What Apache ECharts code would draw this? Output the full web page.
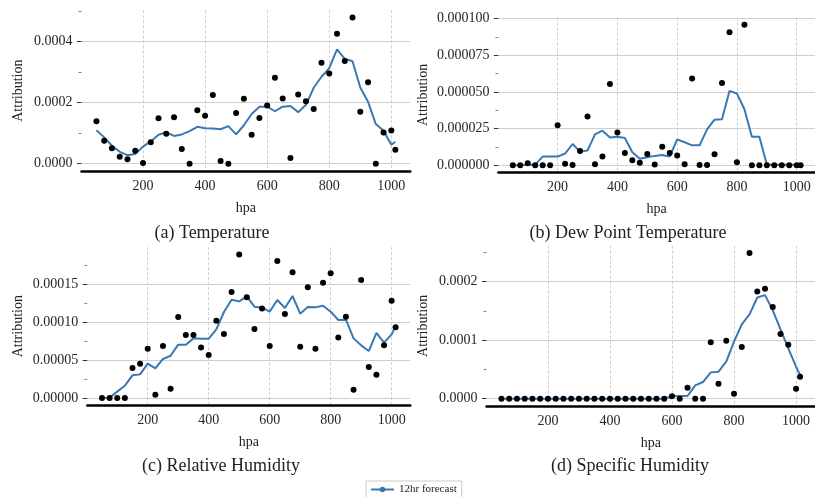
<!DOCTYPE html>
<html>
<head>
<meta charset="utf-8">
<script src="https://cdn.jsdelivr.net/npm/echarts@6/dist/echarts.min.js"></script>
<style>
    html, body { margin: 0; padding: 0; background: #fff; }
    #chart { width: 815px; height: 497px; }
</style>
</head>
<body>
<div id="chart"></div>
<script>
// pressure levels (hPa)
const levels = [50, 75, 100, 125, 150, 175, 200, 225, 250, 275, 300, 325, 350, 375, 400, 425, 450, 475, 500, 525,
    550, 575, 600, 625, 650, 675, 700, 725, 750, 775, 800, 825, 850, 875, 900, 925, 950, 975, 1000, 1013];

// (a) temperature
const tempPts = [0.000139, 0.0000754, 0.0000503, 0.000023, 0.0000142, 0.0000426, 0.000002, 0.00007, 0.000149, 0.0000984,
    0.000152, 0.000048, 0, 0.000175, 0.000157, 0.000225, 0.0000087, 0, 0.000166, 0.000213,
    0.000095, 0.00015, 0.000191, 0.000282, 0.000214, 0.0000186, 0.000227, 0.000205, 0.000179, 0.000331,
    0.000296, 0.000426, 0.000337, 0.000479, 0.00017, 0.000267, 0, 0.000102, 0.000109, 0.000046];
const tempLine = [0.00011, 0.0000863, 0.000059, 0.000039, 0.000028, 0.000032, 0.000056, 0.000073, 0.000095, 0.000103,
    0.000091, 0.000096, 0.000107, 0.000121, 0.000116, 0.000115, 0.000113, 0.000123, 0.000096, 0.000126,
    0.000163, 0.000187, 0.000187, 0.000172, 0.000187, 0.000189, 0.000169, 0.000193, 0.000249, 0.000285,
    0.000313, 0.000375, 0.000344, 0.000336, 0.00025, 0.000203, 0.00013, 0.000108, 0.000062, 0.000072];

// (b) dew point temperature
const dewPts = [0, 0, 0.0000014, 0, 0, 0, 0.0000273, 0.000001, 0.0000002, 0.0000098,
    0.0000332, 0.0000007, 0.0000059, 0.0000555, 0.0000223, 0.0000084, 0.0000034, 0.0000018, 0.0000077, 0.0000005,
    0.0000127, 0.0000084, 0.0000066, 0.0000007, 0.0000591, 0.0000002, 0.0000002, 0.0000075, 0.0000561, 0.0000907,
    0.000002, 0.0000959, 0, 0, 0, 0, 0, 0, 0, 0];
const dewLine = [0, 0, 0.0000003, 0.0000004, 0.0000059, 0.0000059, 0.0000059, 0.000008, 0.0000145, 0.0000093,
    0.00001, 0.0000211, 0.0000236, 0.0000189, 0.0000195, 0.0000186, 0.0000089, 0.0000045, 0.0000055, 0.0000064,
    0.000007, 0.0000059, 0.0000177, 0.0000157, 0.0000136, 0.0000136, 0.0000245, 0.0000311, 0.0000314, 0.0000507,
    0.0000489, 0.0000382, 0.0000195, 0.0000195, 0.0000005, 0.0000003, 0.0000003, 0.0000003, 0.0000003, 0.0000003];

// (c) relative humidity
const rhPts = [0, 0, 0, 0, 0.0000396, 0.0000453, 0.0000651, 0.0000044, 0.0000686, 0.0000123,
    0.0001069, 0.0000831, 0.0000831, 0.0000668, 0.0000567, 0.000102, 0.0000844, 0.00014, 0.0001895, 0.0001328,
    0.000091, 0.000118, 0.0000686, 0.0001807, 0.0001108, 0.0001658, 0.0000677, 0.000146, 0.0000651, 0.0001522,
    0.0001645, 0.00008, 0.0001073, 0.000011, 0.0001557, 0.0000409, 0.0000308, 0.0000695, 0.0001284, 0.0000932];
const rhLine = [0, 0.0000005, 0.0000084, 0.0000163, 0.0000299, 0.0000312, 0.0000453, 0.0000391, 0.0000515, 0.0000558,
    0.0000704, 0.0000704, 0.0000787, 0.0000783, 0.0000783, 0.0000906, 0.0001135, 0.0001297, 0.0001275, 0.0001341,
    0.0001205, 0.0001192, 0.0001139, 0.0001293, 0.0001187, 0.0001346, 0.0001113, 0.00012, 0.0001196, 0.0001218,
    0.0001139, 0.0001029, 0.0001033, 0.0000787, 0.0000695, 0.000062, 0.0000858, 0.000073, 0.000084, 0.0000954];

// (d) specific humidity
const qPts = [0, 0, 0, 0, 0, 0, 0, 0, 0, 0,
    0, 0, 0, 0, 0, 0, 0, 0, 0, 0,
    0, 0, 0.000004, 0, 0.0000188, 0, 0, 0.0000963, 0.0000256, 0.0000991,
    0.0000085, 0.0000883, 0.000249, 0.000183, 0.000188, 0.0001567, 0.0001105, 0.0000923, 0.0000171, 0.0000376];
const qLine = [0, 0, 0, 0, 0, 0, 0, 0, 0, 0,
    0, 0, 0, 0, 0, 0, 0, 0, 0, 0,
    0, 0, 0.000004, 0.0000046, 0.0000046, 0.0000228, 0.0000285, 0.000045, 0.0000462, 0.0000632,
    0.0000974, 0.000127, 0.000144, 0.000173, 0.000177, 0.000151, 0.0001185, 0.000086, 0.0000547, 0.0000405];

// tick labels
const xTicks = [200, 400, 600, 800, 1000];
const tempTicks = [0, 0.0002, 0.0004];
const tempMinor = [0.0001, 0.0003, 0.0005];
const dewTicks = [0, 0.000025, 0.00005, 0.000075, 0.0001];
const dewMinor = [0.0000125, 0.0000375, 0.0000625, 0.0000875];
const rhTicks = [0, 0.00005, 0.0001, 0.00015];
const rhMinor = [0.000025, 0.000075, 0.000125, 0.000175];
const qTicks = [0, 0.0001, 0.0002];
const qMinor = [0.00005, 0.00015, 0.00025];

const BLUE = '#3a78b4';
const FONT = '"Liberation Serif", "Times New Roman", serif';

// matplotlib-like 5% margins
const padRange = (vals) => {
    const lo = Math.min(...vals);
    const hi = Math.max(...vals);
    const p = (hi - lo) * 0.05;
    return [lo - p, hi + p];
};

const panels = [
    { title: '(a) Temperature', pts: tempPts, line: tempLine, ticks: tempTicks, minor: tempMinor, digits: 4,
        grid: { left: 81.5, top: 10.3, width: 328.8, height: 160.7 }, nameGap: 56, titleAt: [212, 233] },
    { title: '(b) Dew Point Temperature', pts: dewPts, line: dewLine, ticks: dewTicks, minor: dewMinor, digits: 6,
        grid: { left: 498.4, top: 17.6, width: 317.2, height: 154.7 }, nameGap: 68, titleAt: [628, 233] },
    { title: '(c) Relative Humidity', pts: rhPts, line: rhLine, ticks: rhTicks, minor: rhMinor, digits: 5,
        grid: { left: 87.3, top: 247.2, width: 323, height: 158 }, nameGap: 62, titleAt: [221, 466] },
    { title: '(d) Specific Humidity', pts: qPts, line: qLine, ticks: qTicks, minor: qMinor, digits: 4,
        grid: { left: 486.5, top: 245.7, width: 328.8, height: 160.3 }, nameGap: 56, titleAt: [630, 466] },
];

const xRange = padRange(levels);

const grids = [];
const xAxes = [];
const yAxes = [];
const series = [];
const graphics = [];

panels.forEach((p, i) => {
    const yRange = padRange(p.pts.concat(p.line));
    grids.push(p.grid);

    xAxes.push({
        type: 'value',
        gridIndex: i,
        min: xRange[0],
        max: xRange[1],
        name: 'hpa',
        nameLocation: 'middle',
        nameGap: 30,
        nameTextStyle: { fontFamily: FONT, fontSize: 14, color: '#222' },
        axisLine: { onZero: false, lineStyle: { color: '#000', width: 2.5 } },
        axisTick: { show: false, customValues: xTicks },
        axisLabel: {
            customValues: xTicks,
            formatter: (v) => String(v),
            fontFamily: FONT,
            fontSize: 14,
            color: '#262626',
            margin: 8,
        },
        splitLine: { show: true, lineStyle: { color: '#c4c4c4', width: 0.8, type: [3, 2] } },
    });

    yAxes.push({
        type: 'value',
        gridIndex: i,
        position: 'left',
        min: yRange[0],
        max: yRange[1],
        name: 'Attribution',
        nameLocation: 'middle',
        nameGap: p.nameGap,
        nameTextStyle: { fontFamily: FONT, fontSize: 14, color: '#222' },
        axisLine: { show: false },
        axisTick: { show: true, length: 4.5, customValues: p.ticks, lineStyle: { color: '#333', width: 1 } },
        axisLabel: {
            customValues: p.ticks,
            formatter: (v) => v.toFixed(p.digits),
            fontFamily: FONT,
            fontSize: 14,
            color: '#262626',
            margin: 9,
        },
        splitLine: { show: true, lineStyle: { color: '#cfcfcf', width: 1 } },
    });
    // minor ticks
    yAxes.push({
        type: 'value',
        gridIndex: i,
        position: 'left',
        min: yRange[0],
        max: yRange[1],
        axisLine: { show: false },
        axisTick: { show: true, length: 3, customValues: p.minor, lineStyle: { color: '#888', width: 1 } },
        axisLabel: { show: false },
        splitLine: { show: false },
    });

    series.push({
        name: '12hr forecast',
        type: 'line',
        xAxisIndex: i,
        yAxisIndex: 2 * i,
        data: levels.map((x, j) => [x, p.line[j]]),
        showSymbol: false,
        symbol: 'circle',
        symbolSize: 7,
        lineStyle: { color: BLUE, width: 2 },
        itemStyle: { color: BLUE },
        z: 2,
    });
    series.push({
        type: 'scatter',
        xAxisIndex: i,
        yAxisIndex: 2 * i,
        data: levels.map((x, j) => [x, p.pts[j]]),
        symbolSize: 6,
        itemStyle: { color: '#000', opacity: 1 },
        z: 3,
    });

    graphics.push({
        type: 'text',
        x: p.titleAt[0],
        y: p.titleAt[1],
        style: {
            text: p.title,
            font: '18px ' + FONT,
            fill: '#222',
            align: 'center',
            verticalAlign: 'middle',
        },
    });
});

const chart = echarts.init(document.getElementById('chart'));
chart.setOption({
    animation: false,
    backgroundColor: '#fff',
    grid: grids,
    xAxis: xAxes,
    yAxis: yAxes,
    series: series,
    graphic: graphics,
    legend: {
        data: ['12hr forecast'],
        left: 366,
        top: 481,
        padding: [3, 5, 3, 4],
        itemWidth: 23,
        itemHeight: 7,
        itemGap: 6,
        borderColor: '#cccccc',
        borderWidth: 1,
        textStyle: { fontFamily: FONT, fontSize: 11, color: '#222' },
    },
});
</script>
</body>
</html>
